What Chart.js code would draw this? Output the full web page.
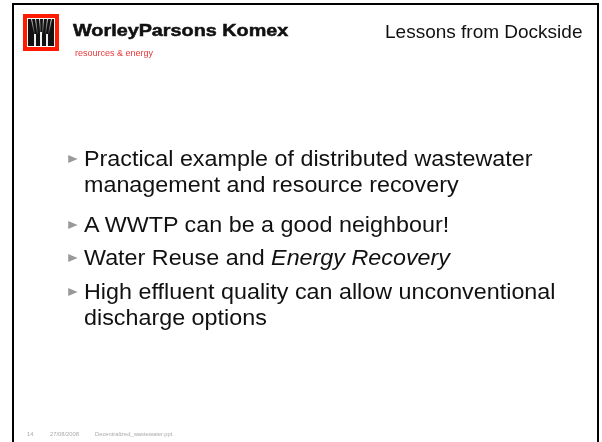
<!DOCTYPE html>
<html>
<head>
<meta charset="utf-8">
<script src="https://cdn.jsdelivr.net/npm/chart.js@4/dist/chart.umd.min.js"></script>
<style>
  html, body { margin: 0; padding: 0; background: #fff; }
  #wrap { position: relative; width: 602px; height: 442px; overflow: hidden; font-family: "Liberation Sans", Arial, sans-serif; }
  #slide { position: absolute; left: 0; top: 0; }
  .abs { position: absolute; white-space: nowrap; line-height: normal; }
  #brand { left: 73px; top: 21px; font-size: 16.5px; font-weight: bold; color: #111; -webkit-text-stroke: 0.5px #111; transform: scaleX(1.2); transform-origin: 0 0; }
  #tag { left: 75px; top: 48px; font-size: 9px; color: #e8383d; }
  #title { left: 385px; top: 20.5px; font-size: 19px; color: #111; }
  #bullets { position: absolute; left: 84px; top: 145.5px; width: 445px; font-size: 22px; color: #111; line-height: 26px; transform: scaleX(1.06); transform-origin: 0 0; }
  #bullets div { position: relative; }
  #bullets div::before { content: ""; position: absolute; left: -15px; top: 9px; border-left: 9px solid #999; border-top: 4.5px solid transparent; border-bottom: 4.5px solid transparent; }
  #footer span { position: absolute; top: 431px; font-size: 5.8px; color: #aaa; white-space: nowrap; }
</style>
</head>
<body>
<div id="wrap">
  <canvas id="slide" width="602" height="442"></canvas>
  <div id="brand" class="abs"></div>
  <div id="tag" class="abs"></div>
  <div id="title" class="abs"></div>
  <div id="bullets"></div>
  <div id="footer"></div>
</div>
<script>
// slide text
const brandName = "WorleyParsons Komex";
const brandTag = "resources & energy";
const slideTitle = "Lessons from Dockside";
const bulletLines = [
    [["Practical example of distributed wastewater management and resource recovery", false]],
    [["A WWTP can be a good neighbour!", false]],
    [["Water Reuse and ", false], ["Energy Recovery", true]],
    [["High effluent quality can allow unconventional discharge options", false]]
];
const footerParts = ["14", "27/08/2008", "Decentralized_wastewater.ppt"];

document.getElementById("brand").textContent = brandName;
document.getElementById("tag").textContent = brandTag;
document.getElementById("title").textContent = slideTitle;

var gapBefore = [0, 14, 7, 8];
var list = document.getElementById("bullets");
bulletLines.forEach((parts, i) => {
    var d = document.createElement("div");
    d.style.marginTop = gapBefore[i] + "px";
    parts.forEach(p => {
        var s = document.createElement(p[1] ? "i" : "span");
        s.textContent = p[0];
        d.appendChild(s);
    });
    list.appendChild(d);
});

var footLeft = [27, 50, 95];
var foot = document.getElementById("footer");
footerParts.forEach((t, i) => {
    var s = document.createElement("span");
    s.textContent = t;
    s.style.left = footLeft[i] + "px";
    foot.appendChild(s);
});

// frame + logo drawn by a plugin on an empty chart
const framePlugin = {
    id: "slideFrame",
    beforeDraw(chart) {
        const ctx = chart.ctx;
        ctx.save();
        ctx.fillStyle = "#fff";
        ctx.fillRect(0, 0, chart.width, chart.height);
        ctx.fillStyle = "#000";
        ctx.fillRect(12, 3, 587, 2);
        ctx.fillRect(12, 3, 2, chart.height);
        ctx.fillRect(597, 3, 2, chart.height);
        // logo
        ctx.fillStyle = "#ff1a00";
        ctx.fillRect(23, 14, 36, 37);
        ctx.fillStyle = "#fff";
        ctx.fillRect(27, 18, 28, 29);
        ctx.fillStyle = "#111";
        ctx.fillRect(28, 19, 26, 27);
        var g = ctx.createLinearGradient(0, 19, 0, 34);
        g.addColorStop(0, "rgba(255,255,255,0.85)");
        g.addColorStop(1, "rgba(255,255,255,0.1)");
        ctx.strokeStyle = g;
        ctx.lineWidth = 1;
        [[31, 34], [35, 37], [39, 40], [43, 42], [47, 45], [51, 48]].forEach(p => {
            ctx.beginPath();
            ctx.moveTo(p[0] + 0.5, 19);
            ctx.lineTo(p[1] + 0.5, 34);
            ctx.stroke();
        });
        ctx.fillStyle = "#eee";
        ctx.fillRect(34, 34, 2, 12);
        ctx.fillRect(40, 32, 2, 14);
        ctx.fillRect(46, 34, 2, 12);
        ctx.restore();
    }
};

new Chart(document.getElementById("slide"), {
    type: "scatter",
    data: { datasets: [{ data: [] }] },
    options: {
        responsive: false,
        animation: false,
        events: [],
        plugins: { legend: { display: false }, tooltip: { enabled: false } },
        scales: { x: { display: false }, y: { display: false } }
    },
    plugins: [framePlugin]
});
</script>
</body>
</html>
